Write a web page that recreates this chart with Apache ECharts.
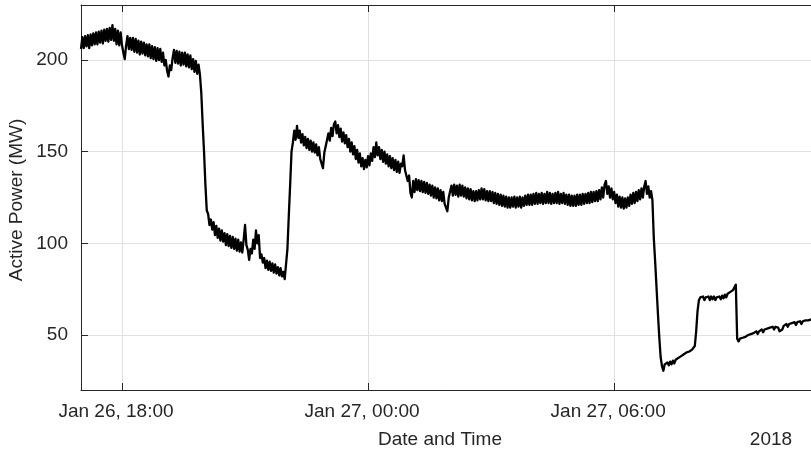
<!DOCTYPE html>
<html>
<head>
<meta charset="utf-8">
<title>Active Power</title>
<script src="https://cdn.jsdelivr.net/npm/echarts@6/dist/echarts.min.js"></script>
<style>
  html, body { margin: 0; padding: 0; background: #ffffff; }
  #chart { width: 811px; height: 453px; }
</style>
</head>
<body>
<div id="chart"></div>
<script>
// Active power readings (MW), one sample every 2 minutes.
// Each array holds one clock hour, starting Jan 26 2018, 17:00.
const startTime = Date.UTC(2018, 0, 26, 17, 0);
const stepMinutes = 2;

const h1700 = [206, 212.5, 206.5, 213, 207.5, 213.5, 206.5, 214, 208, 214.5, 208.5, 215, 208.5, 215.5, 209.5, 216, 209, 216.5, 210.5, 217, 210, 217.5, 211, 219, 210.5, 217, 208.5, 216, 208, 215];
const h1800 = [208, 204, 200.5, 208, 213, 206, 212, 205.5, 212, 204.5, 211.5, 204, 210.5, 203, 210, 203.5, 209.5, 202.5, 208.5, 202, 208.5, 201, 207.5, 200.5, 207, 199.5, 206.5, 200, 206, 199];
const h1900 = [204, 197, 200, 194, 191, 197, 194.5, 201, 205.5, 198.5, 205, 198, 204.5, 197, 204, 197.5, 204, 196.5, 203, 196, 202.5, 195, 200.5, 193.5, 199.5, 192.5, 197.5, 192, 182, 165];
const h2000 = [150, 132, 118, 116, 110, 113, 107.5, 111.5, 104.5, 109.5, 103, 108, 101.5, 107, 101, 105.5, 99, 105, 98.5, 104, 97.5, 103.5, 97, 102.5, 96, 102, 95.5, 100.5, 95, 102];
const h2100 = [110, 99, 96.5, 91, 97, 94.5, 102, 97, 107, 100, 104.5, 92, 94, 89.5, 92, 86.5, 90.5, 85.5, 90, 85, 89, 84, 88.5, 83.5, 87, 82.5, 86.5, 82, 84.5, 80.5];
const h2200 = [79.5, 97, 115, 132, 150, 155, 161.5, 156.5, 164, 157.5, 161.5, 155, 159.5, 153.5, 158, 152, 157, 151, 156, 150, 155, 149.5, 154, 148, 152.5, 146, 146.5, 141, 149.5, 153];
const h2300 = [154, 160, 156, 163, 158.5, 165, 166.5, 160, 164.5, 158, 162.5, 155.5, 160.5, 154.5, 159, 152.5, 157, 150, 155, 148.5, 153, 146, 151, 144, 149, 142, 146.5, 140.5, 145.5, 141.5];
const h0000 = [147.5, 142.5, 149, 145, 152.5, 147, 155, 148, 152.5, 146, 151, 144.5, 150, 143.5, 148.5, 142, 147.5, 141, 146.5, 140, 145.5, 139, 144.5, 138.5, 143.5, 142, 148, 140, 139, 134];
const h0100 = [137, 127.5, 125, 134, 128, 135, 129, 134.5, 128.5, 134, 128, 133.5, 127.5, 133, 127, 132, 126, 131.5, 125, 130.5, 124.5, 130, 123.5, 129, 123, 128, 121.5, 122.5, 117.5, 125];
const h0200 = [125.5, 131.5, 126, 132, 126.5, 131.5, 125.5, 132, 126, 131.5, 125.5, 130.5, 124.5, 130, 124, 129.5, 123.5, 128.5, 123, 128.5, 123.5, 129, 124, 130, 124, 129.5, 123.5, 128.5, 123, 128.5];
const h0300 = [123, 128, 122, 127.5, 121.5, 127, 121, 126.5, 120.5, 126, 120, 125.5, 119.5, 125, 119.5, 125, 120, 125.5, 119.5, 125, 120, 125.5, 119.5, 125, 120.5, 126, 121, 126.5, 121, 126.5];
const h0400 = [121, 127, 121.5, 127.5, 121.5, 127, 122, 127.5, 121.5, 127, 122, 128, 122, 127.5, 121.5, 127, 122, 127.5, 122, 128, 121.5, 127, 122, 127.5, 121.5, 126.5, 121, 126.5, 120.5, 126];
const h0500 = [120.5, 126, 120.5, 126.5, 121, 126.5, 121, 127, 121.5, 127, 122, 127.5, 122, 128, 122.5, 128, 123, 128.5, 123, 129, 124, 130.5, 125, 132, 134, 127, 131, 125, 130, 124];
const h0600 = [128, 122, 126.5, 120, 125.5, 119.5, 125, 119, 124.5, 119.5, 125, 120.5, 126.5, 121.5, 127.5, 122, 128, 123, 129, 124, 130, 125, 131, 134, 127, 131, 125, 128.5, 123.5, 103];
const h0700 = [90, 76, 62, 49, 38, 33, 30.5, 34, 33, 35, 33.5, 35.5, 34, 36, 34.5, 36.5, 35.5, 37.5, 36.5, 38.5, 37.5, 39.5, 38.5, 40.5, 39.5, 41, 40, 42, 41.5, 44];
const h0800 = [52, 63, 69, 70.5, 69.5, 71, 69, 70.5, 69.5, 71, 69, 71, 69.5, 71, 69, 70.5, 69.5, 71, 69.5, 71.5, 70, 72, 70.5, 72.5, 71.5, 73.5, 72.5, 74.5, 75, 77.5];
const h0900 = [48, 46.5, 48, 47, 48.5, 47.5, 49, 48.5, 50, 49, 50.5, 49.5, 51, 50.5, 52, 50.5, 52, 51.5, 53, 51.5, 53, 52.5, 53.5, 52.5, 54, 53, 54.5, 53, 54.5, 53.5];
const h1000 = [54, 52, 53, 53, 55, 54.5, 56, 54.5, 56, 55.5, 56.5, 55.5, 57, 55.5, 57, 56.5, 57.5, 56, 57.5, 56.5, 58, 57, 58, 57.5, 58.5];

const hourlyPower = [h1700, h1800, h1900, h2000, h2100, h2200, h2300, h0000, h0100,
  h0200, h0300, h0400, h0500, h0600, h0700, h0800, h0900, h1000];

// Axis ticks
const timeTicks = [
  Date.UTC(2018, 0, 26, 18, 0),
  Date.UTC(2018, 0, 27, 0, 0),
  Date.UTC(2018, 0, 27, 6, 0)
];
const powerTicks = [50, 100, 150, 200];
const powerRange = [20, 230];
const monthNames = ['Jan', 'Feb', 'Mar', 'Apr', 'May', 'Jun', 'Jul', 'Aug', 'Sep', 'Oct', 'Nov', 'Dec'];

const seriesData = [];
hourlyPower.forEach((hour, k) => {
  hour.forEach((v, j) => {
    seriesData.push([startTime + (k * 60 + j * stepMinutes) * 60000, v]);
  });
});
const endTime = seriesData[seriesData.length - 1][0];

function pad2(n) { return (n < 10 ? '0' : '') + n; }
function formatTick(ts) {
  const d = new Date(ts);
  return monthNames[d.getUTCMonth()] + ' ' + d.getUTCDate() + ', ' +
    pad2(d.getUTCHours()) + ':' + pad2(d.getUTCMinutes());
}

const fontFamily = '"Liberation Sans", Arial, Helvetica, sans-serif';
const inkColor = '#262626';
const gridColor = '#e0e0e0';
const fontSize = 19;

const chart = echarts.init(document.getElementById('chart'), null, { renderer: 'canvas' });

chart.setOption({
  animation: false,
  backgroundColor: '#ffffff',
  grid: { left: 81, right: 0, top: 5, bottom: 63, containLabel: false },
  xAxis: [
    {
      type: 'value',
      position: 'bottom',
      min: startTime,
      max: endTime,
      axisLine: { show: true, onZero: false, lineStyle: { color: inkColor, width: 1 } },
      axisTick: { show: true, inside: true, length: 7, customValues: timeTicks,
        lineStyle: { color: inkColor, width: 1 } },
      axisLabel: {
        customValues: timeTicks,
        formatter: (v) => formatTick(v),
        color: inkColor, fontFamily: fontFamily, fontSize: fontSize,
        margin: 12, padding: [0, 12, 0, 0]
      },
      splitLine: { show: true, lineStyle: { color: gridColor, width: 1 } }
    },
    {
      type: 'value',
      position: 'top',
      min: startTime,
      max: endTime,
      axisLine: { show: true, onZero: false, lineStyle: { color: inkColor, width: 1 } },
      axisTick: { show: true, inside: true, length: 7, customValues: timeTicks,
        lineStyle: { color: inkColor, width: 1 } },
      axisLabel: { show: false },
      splitLine: { show: false }
    }
  ],
  yAxis: {
    type: 'value',
    min: powerRange[0],
    max: powerRange[1],
    axisLine: { show: true, onZero: false, lineStyle: { color: inkColor, width: 1 } },
    axisTick: { show: true, inside: true, length: 7, customValues: powerTicks,
      lineStyle: { color: inkColor, width: 1 } },
    axisLabel: {
      customValues: powerTicks,
      color: inkColor, fontFamily: fontFamily, fontSize: fontSize, margin: 13
    },
    splitLine: { show: true, lineStyle: { color: gridColor, width: 1 } }
  },
  series: [
    {
      type: 'line',
      name: 'Active Power',
      xAxisIndex: 0,
      data: seriesData,
      showSymbol: false,
      symbol: 'none',
      sampling: null,
      lineStyle: { color: '#000000', width: 2.3, join: 'round' },
      silent: true
    }
  ],
  graphic: [
    {
      type: 'text', x: 440, y: 440,
      style: { text: 'Date and Time', fill: inkColor, font: fontSize + 'px ' + fontFamily,
        align: 'center', verticalAlign: 'middle' }
    },
    {
      type: 'text', x: 771, y: 440,
      style: { text: '2018', fill: inkColor, font: fontSize + 'px ' + fontFamily,
        align: 'center', verticalAlign: 'middle' }
    },
    {
      type: 'text', x: 17, y: 200, rotation: Math.PI / 2,
      style: { text: 'Active Power (MW)', fill: inkColor, font: fontSize + 'px ' + fontFamily,
        align: 'center', verticalAlign: 'middle' }
    }
  ]
});
</script>
</body>
</html>
